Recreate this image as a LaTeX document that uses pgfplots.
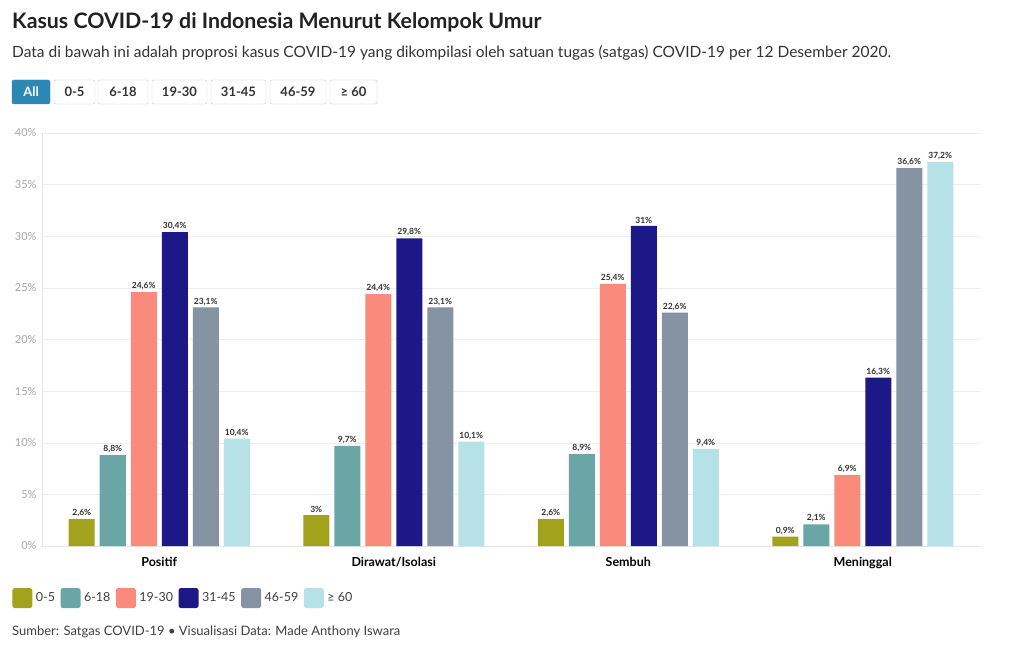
\documentclass[border=0pt]{standalone}
\usepackage{fontspec}
\setmainfont{Lato}
\usepackage{pgfplots}
\usepackage{pgfplotstable}
\pgfplotsset{compat=1.18}
\definecolor{c1}{HTML}{A3A21C}
\definecolor{c2}{HTML}{6BA6A6}
\definecolor{c3}{HTML}{FA8B7C}
\definecolor{c4}{HTML}{1C1887}
\definecolor{c5}{HTML}{8593A2}
\definecolor{c6}{HTML}{B6E1E7}
\definecolor{btn}{HTML}{2C87B4}
\pgfplotstableread{
x a b c d e f
0 2.6 8.8 24.6 30.4 23.1 10.4
1 3 9.7 24.4 29.8 23.1 10.1
2 2.6 8.9 25.4 31 22.6 9.4
3 0.9 2.1 6.9 16.3 36.6 37.2
}\data
\begin{document}
\begin{tikzpicture}[x=1pt,y=1pt]
\fill[white] (0,0) rectangle (1020,-650);
\useasboundingbox (0,0) rectangle (1020,-650);
\node[anchor=west, inner sep=0, font=\fontsize{21.3}{24}\selectfont\bfseries, text=black!87] at (12,-22) {Kasus COVID-19 di Indonesia Menurut Kelompok Umur};
\node[anchor=west, inner sep=0, font=\fontsize{15.5}{18}\selectfont, text=black!80] at (12,-53) {Data di bawah ini adalah proprosi kasus COVID-19 yang dikompilasi oleh satuan tugas (satgas) COVID-19 per 12 Desember 2020.};
% buttons
\draw[rounded corners=2pt, fill=btn, draw=btn] (12,-80) rectangle (50,-104);
\node[font=\fontsize{13}{15}\selectfont\bfseries, text=white] at (31,-92) {All};
\foreach \a/\b/\t in {54/95/0-5, 98/148/6-18, 152/207/19-30, 211/266/31-45, 270/326/46-59, 330/377/{≥ 60}} {
  \draw[rounded corners=2pt, fill=white, draw=black!20] (\a,-80) rectangle (\b,-104);
  \node[font=\fontsize{13}{15}\selectfont\bfseries, text=black!80] at ({(\a+\b)/2},-92) {\t};
}
\begin{axis}[
  at={(42pt,-546pt)}, anchor=south west,
  scale only axis, width=938pt, height=413pt,
  xmin=-0.5, xmax=3.5, ymin=0, ymax=40,
  ybar=5pt, bar width=26pt,
  clip=false,
  axis x line=bottom, axis y line=left,
  axis line style={-, draw=black!10},
  major tick length=0pt,
  ymajorgrids, major grid style={draw=black!7},
  ytick={0,5,...,40},
  yticklabel={\pgfmathprintnumber{\tick}\%},
  /pgf/number format/assume math mode=true,
  yticklabel style={font=\fontsize{11}{12}\selectfont, text=black!35, xshift=-2pt},
  xtick={0,1,2,3},
  xticklabels={Positif, Dirawat/Isolasi, Sembuh, Meninggal},
  xticklabel style={font=\fontsize{12.5}{14}\selectfont\bfseries, text=black, yshift=-8pt},
  nodes near coords={\pgfmathprintnumber[fixed,precision=1,use comma]{\pgfplotspointmeta}\%},
  nodes near coords style={font=\fontsize{8.5}{9}\selectfont\bfseries, text=black!80, inner sep=2pt},
  legend style={at={(-0.035,-0.126)}, anchor=west, draw=none, fill=none,
    font=\fontsize{12.5}{15}\selectfont, text=black!75,
    /tikz/every even column/.append style={column sep=3.5pt}},
  legend columns=6,
  legend image code/.code={\fill[#1, rounded corners=2.5pt] (0pt,-10pt) rectangle (20pt,10pt); \path (21.5pt,0pt);},
]
\addplot[fill=c1, draw=none] table[x=x,y=a] {\data};
\addplot[fill=c2, draw=none] table[x=x,y=b] {\data};
\addplot[fill=c3, draw=none] table[x=x,y=c] {\data};
\addplot[fill=c4, draw=none] table[x=x,y=d] {\data};
\addplot[fill=c5, draw=none] table[x=x,y=e] {\data};
\addplot[fill=c6, draw=none] table[x=x,y=f] {\data};
\legend{0-5, 6-18, 19-30, 31-45, 46-59, ≥ 60}
\end{axis}
\node[anchor=west, inner sep=0, font=\fontsize{13}{15}\selectfont, text=black!75] at (12,-632) {Sumber: Satgas COVID-19 • Visualisasi Data: Made Anthony Iswara};
\end{tikzpicture}
\end{document}
